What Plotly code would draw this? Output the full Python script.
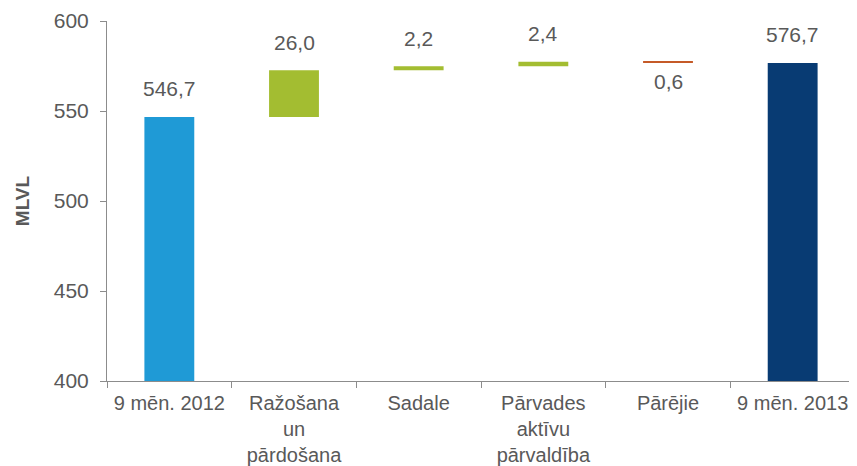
"""
Waterfall chart: 9 month result change by segment (MLVL)
"""

import numpy as np
import plotly.graph_objects as go

categories = ["9 mēn. 2012", "Ražošana<br>un<br>pārdošana", "Sadale",
              "Pārvades<br>aktīvu<br>pārvaldība", "Pārējie", "9 mēn. 2013"]
start_value = 546.7
changes = [26.0, 2.2, 2.4, -0.6]
end_value = 576.7
y_ticks = [400, 450, 500, 550, 600]

colors = ["#1F9AD6", "#A3BD31", "#A3BD31", "#A3BD31", "#C55A28", "#083B73"]
text_color = "#595959"
axis_color = "#8C8C8C"
font_family = "Liberation Sans, Arial, sans-serif"

# bar heights and bases built from the data
change_bases = start_value + np.concatenate([[0], np.cumsum(changes)[:-1]])
heights = [start_value] + changes + [end_value]
bases = [0] + list(change_bases) + [0]
tops = [b + max(h, 0) for b, h in zip(bases, heights)]
bottoms = [b + min(h, 0) for b, h in zip(bases, heights)]


def fmt(v):
    return f"{abs(v):.1f}".replace(".", ",")


fig = go.Figure()
fig.add_trace(go.Bar(
    x=categories,
    y=heights,
    base=bases,
    width=0.4,
    marker=dict(color=colors, line=dict(width=0)),
    hoverinfo="skip",
))

# value labels: above for increases/totals, below for decreases
for cat, h, top, bottom in zip(categories, heights, tops, bottoms):
    if h >= 0:
        fig.add_annotation(x=cat, y=top, text=fmt(h), showarrow=False,
                           yanchor="middle", yshift=28,
                           font=dict(size=21, color=text_color, family=font_family))
    else:
        fig.add_annotation(x=cat, y=bottom, text=fmt(h), showarrow=False,
                           yanchor="middle", yshift=-19,
                           font=dict(size=21, color=text_color, family=font_family))

# the page body adds an 8px offset, so the figure is sized 8px smaller
fig.update_layout(
    width=849,
    height=458,
    margin=dict(l=99, r=2, t=13, b=85),
    plot_bgcolor="white",
    paper_bgcolor="white",
    showlegend=False,
    font=dict(family=font_family, size=21, color=text_color),
)

fig.update_xaxes(
    type="category",
    showline=True,
    linecolor=axis_color,
    linewidth=1,
    ticks="outside",
    tickson="boundaries",
    ticklen=6,
    tickcolor=axis_color,
    tickangle=0,
    ticklabelstandoff=4,
    showgrid=False,
    automargin=False,
    tickfont=dict(size=20, color=text_color),
)

fig.update_yaxes(
    range=[400, 600],
    tickvals=y_ticks,
    showline=True,
    linecolor=axis_color,
    linewidth=1,
    ticks="outside",
    ticklen=6,
    tickcolor=axis_color,
    ticklabelstandoff=7,
    showgrid=False,
    zeroline=False,
    automargin=False,
    tickfont=dict(size=21, color=text_color),
    title=dict(text="<b>MLVL</b>", font=dict(size=19, color=text_color), standoff=19),
)

fig.write_html("out.html")
